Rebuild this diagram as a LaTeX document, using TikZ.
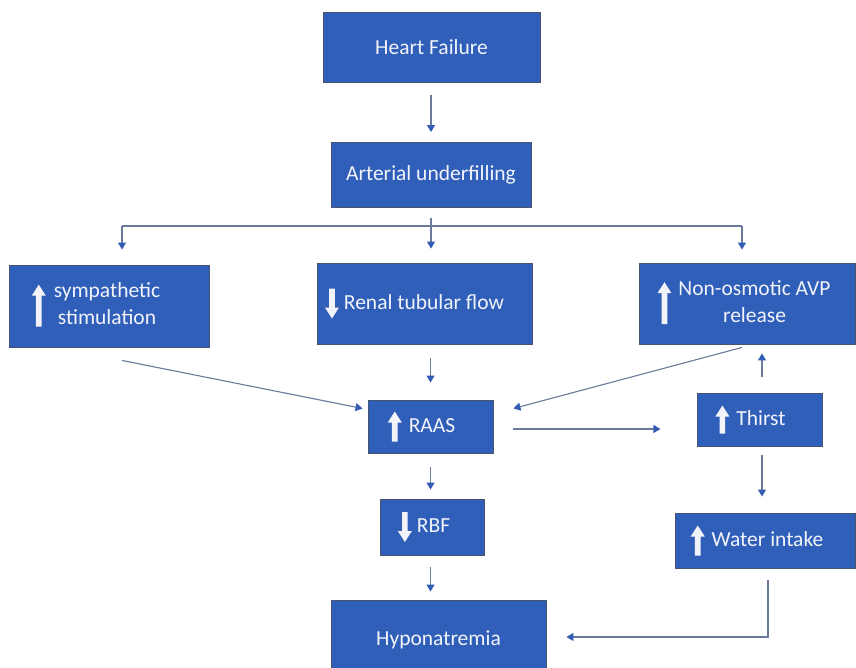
\documentclass[tikz,border=0pt]{standalone}
\usepackage{fontspec}
\setmainfont{Carlito}
\usetikzlibrary{arrows.meta,calc}
\definecolor{boxblue}{RGB}{48,95,185}
\definecolor{boxedge}{RGB}{70,84,110}
\definecolor{lineclr}{RGB}{105,122,155}
\definecolor{tipclr}{RGB}{50,92,180}
\definecolor{txt}{RGB}{242,244,250}
\newcommand{\upa}[1]{\tikz[x=1pt,y=1pt,baseline=-5.5pt]{\fill[txt] (-2.8,-#1/2) -- (-2.8,#1/2-11) -- (-7,#1/2-11) -- (0,#1/2) -- (7,#1/2-11) -- (2.8,#1/2-11) -- (2.8,-#1/2) -- cycle;}}
\newcommand{\dna}[1]{\tikz[x=1pt,y=1pt,baseline=-5.5pt]{\fill[txt] (-2.8,#1/2) -- (-2.8,-#1/2+11) -- (-7,-#1/2+11) -- (0,-#1/2) -- (7,-#1/2+11) -- (2.8,-#1/2+11) -- (2.8,#1/2) -- cycle;}}
\tikzset{
  box/.style={draw=boxedge, line width=0.9pt, fill=boxblue, text=txt, inner sep=0pt,
    font=\fontsize{21.5}{27}\selectfont},
  conn/.style={draw=lineclr, line width=1.1pt, -{Triangle[width=8pt,length=7pt,color=tipclr]}},
  plain/.style={draw=lineclr, line width=1.1pt}
}
\begin{document}
\begin{tikzpicture}[x=1pt,y=-1pt]
\useasboundingbox (0,0) rectangle (856,668);
\clip (0,0) rectangle (856,668);
\node[box, minimum width=217pt, minimum height=70pt] (hf) at (431.5,47) {Heart Failure};
\node[box, minimum width=200pt, minimum height=65pt] (au) at (431,175) {Arterial underfilling};
\node[box, minimum width=200pt, minimum height=82pt] (symp) at (109,306)
  {\upa{42}\hspace{8pt}\begin{tabular}{@{}c@{}}sympathetic\\stimulation\end{tabular}\kern26pt};
\node[box, minimum width=215pt, minimum height=81pt] (renal) at (424.5,303.5)
  {\dna{30}\hspace{5pt}Renal tubular flow\kern20pt};
\node[box, minimum width=216pt, minimum height=81pt] (avp) at (747,303.5)
  {\upa{42}\hspace{7pt}\begin{tabular}{@{}c@{}}Non-osmotic AVP\\release\end{tabular}\kern6pt};
\node[box, minimum width=125pt, minimum height=53pt] (raas) at (430.5,426.5)
  {\upa{30}\hspace{7pt}RAAS\kern18pt};
\node[box, minimum width=125pt, minimum height=53pt] (thirst) at (759.5,419.5)
  {\upa{28}\hspace{7pt}Thirst\kern18pt};
\node[box, minimum width=180pt, minimum height=55pt] (water) at (765,540.5)
  {\upa{30}\hspace{7pt}Water intake\kern16pt};
\node[box, minimum width=104pt, minimum height=56pt] (rbf) at (432,527)
  {\dna{30}\hspace{5pt}RBF\kern16pt};
\node[box, minimum width=215pt, minimum height=80pt] (hypo) at (438.5,640) {Hyponatremia};
% connectors
\draw[conn, shorten <=13pt, shorten >=10pt] (hf.south -| au.south) -- (au.north);
\coordinate (bl) at (122,226);
\coordinate (brr) at (742,226);
\draw[plain] (bl) -- (brr);
\draw[conn, shorten <=10pt, shorten >=14pt] (au.south) -- (au.south |- renal.north);
\draw[conn, shorten >=15pt] (bl) -- (bl |- symp.north);
\draw[conn, shorten >=13pt] (brr) -- (brr |- avp.north);
\draw[conn, shorten <=14pt, shorten >=17pt] (raas.north |- renal.south) -- (raas.north);
\draw[conn, shorten <=14pt, shorten >=9pt] (raas.south) -- (raas.south |- rbf.north);
\draw[conn, shorten <=12pt, shorten >=8pt] (raas.south |- rbf.south) -- (raas.south |- hypo.north);
\draw[conn] ($(symp.south)+(13,13)$) -- ($(raas.west)+(-5,-18)$);
\draw[conn] ($(avp.south)+(-5,3)$) -- ($(raas.east)+(20,-18)$);
\draw[conn] ($(raas.east)+(20,2.5)$) -- ($(raas.east)+(167,2.5)$);
\draw[conn, shorten <=16pt, shorten >=9pt] ([xshift=2.5pt]thirst.north) -- ([xshift=2.5pt]thirst.north |- avp.south);
\draw[conn, shorten <=9pt, shorten >=16pt] ([xshift=2.5pt]thirst.south) -- ([xshift=2.5pt]thirst.south |- water.north);
\draw[conn] ($(water.south)+(3,12)$) |- ($(hypo.east)+(20,-3)$);
\end{tikzpicture}
\end{document}
